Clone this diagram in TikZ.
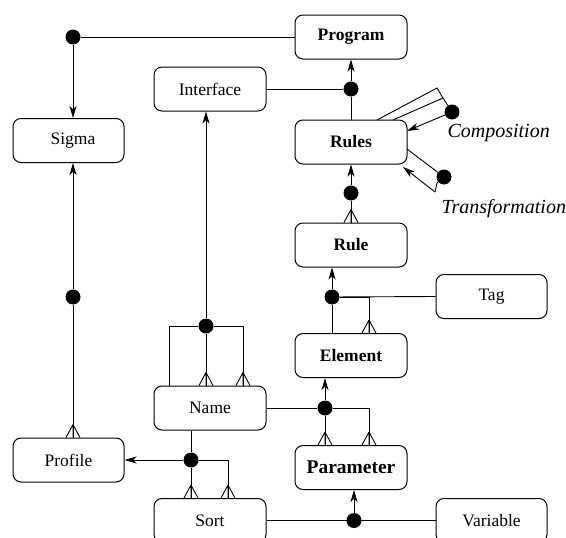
\documentclass[tikz,border=0pt]{standalone}
\usepackage{fontspec}
\setmainfont{Liberation Serif}
\usetikzlibrary{arrows.meta}
\tikzset{
  box/.style={draw, rounded corners=8pt, minimum width=112pt, minimum height=44pt,
    inner sep=0pt, line width=1pt},
  dot/.style={circle, fill=black, minimum size=15pt, inner sep=0pt},
  conn/.style={line width=0.9pt},
  arr/.style={conn, -{Stealth[length=12pt,width=7pt,inset=3.5pt]}},
  rolename/.style={anchor=base west, font=\fontsize{20}{24}\selectfont\itshape},
  crow/.pic={\draw[conn] (0,-13) -- (-7,0) (0,-13) -- (0,0) (0,-13) -- (7,0);}
}
\begin{document}
\begin{tikzpicture}[x=1pt, y=-1pt, font=\fontsize{17.5}{20}\selectfont]
\useasboundingbox (0,0) rectangle (566,538);
\clip (0,0) rectangle (566,538);

% entities
\node[box] (prog)    at (351,37)    {\textbf{Program}};
\node[box] (iface)   at (210,89)    {Interface\hspace{20pt}};
\node[box, minimum width=111pt] (sigma) at (68.5,140.5) {\hspace{9pt}Sigma};
\node[box] (rules)   at (351,142)   {\textbf{Rules}\hspace{10pt}};
\node[box] (rule)    at (351,245)   {\textbf{Rule}};
\node[box, minimum width=111pt] (tag) at (491.5,296.5) {Tag\hspace{9pt}};
\node[box] (element) at (351,355.5) {\textbf{Element}};
\node[box] (name)    at (210,408)   {Name\hspace{10pt}};
\node[box] (param)   at (351,467.5) {\fontsize{19.5}{22}\selectfont\textbf{Parameter}};
\node[box] (sort)    at (210,520.5) {Sort};
\node[box, minimum width=111pt] (var) at (491.5,520.5) {Variable};
\node[box, minimum width=111pt] (profile) at (68.5,460) {Profile};

% relationships
\node[dot] (dProg) at (73,37)   {};
\node[dot] (dIf)   at (351,89)  {};
\node[dot] (dComp) at (452,112) {};
\node[dot] (dTr)   at (444,177) {};
\node[dot] (dRule) at (351,193) {};
\node[dot] (dSig)  at (73,297)  {};
\node[dot] (dEl)   at (332,297) {};
\node[dot] (dName) at (206,326) {};
\node[dot] (dPar)  at (325,408) {};
\node[dot] (dSort) at (191,460) {};
\node[dot] (dVar)  at (354,520.5) {};

% Program -- Sigma
\draw[conn] (dProg) -- (prog.west);
\draw[arr]  (dProg) -- (dProg |- sigma.north);

% Program -- Interface, Rules
\draw[conn] (iface.east) -- (dIf);
\draw[arr]  (dIf) -- (prog.south);
\draw[conn] (dIf) -- (rules.north);

% Composition (Rules with Rules)
\coordinate (c1) at (377,120);
\coordinate (c2) at (393,120);
\coordinate (ck) at (437,88);
\coordinate (cm) at (443,98);
\coordinate (ca) at (407,131);
\draw[conn] (c1) -- (ck) -- (cm) -- (c2);
\draw[conn] (cm) -- (dComp);
\draw[arr]  (dComp) -- (ca);
\node[rolename] (lComp) at (444,137) {Composition};

% Transformation (Rules with Rules)
\coordinate (t1) at (407,149);
\coordinate (tk) at (435,192);
\coordinate (tm) at (437,183);
\coordinate (ta) at (403,167);
\draw[conn] (t1) -- (dTr);
\draw[conn] (dTr) -- (tm) -- (tk);
\draw[arr]  (tk) -- (ta);
\node[rolename] (lTr) at (438,213) {Transformation};

% Rules -- Rule
\draw[arr]  (dRule) -- (rules.south);
\draw[conn] (dRule) -- (rule.north);
\pic at (rule.north) {crow};

% Rule -- Element -- Tag
\coordinate (eb) at ([xshift=18pt]element.north);
\draw[arr]  (dEl) -- (dEl |- rule.south);
\draw[conn] (dEl) -- (dEl |- element.north);
\draw[conn] (dEl) -- (tag.west);
\draw[conn] (dEl) -| (eb);
\pic at (eb) {crow};

% Interface -- Name
\coordinate (n1) at ([xshift=-41pt]name.north);
\coordinate (n2) at (dName |- name.north);
\coordinate (n3) at ([xshift=33pt]name.north);
\draw[arr]  (dName) -- (dName |- iface.south);
\draw[conn] (dName) -| (n1);
\draw[conn] (dName) -- (n2);
\draw[conn] (dName) -| (n3);
\pic at (n2) {crow};
\pic at (n3) {crow};

% Sigma -- Profile
\draw[arr]  (dSig) -- (dSig |- sigma.south);
\draw[conn] (dSig) -- (dSig |- profile.north);
\pic at (dSig |- profile.north) {crow};

% Element -- Name -- Parameter
\coordinate (p1) at (dPar |- param.north);
\coordinate (p2) at ([xshift=18pt]param.north);
\draw[conn] (name.east) -- (dPar);
\draw[arr]  (dPar) -- (dPar |- element.south);
\draw[conn] (dPar) -- (p1);
\draw[conn] (dPar) -| (p2);
\pic at (p1) {crow};
\pic at (p2) {crow};

% Profile -- Name -- Sort
\coordinate (s1) at (dSort |- sort.north);
\coordinate (s2) at ([xshift=18pt]sort.north);
\draw[conn] (dSort) -- (dSort |- name.south);
\draw[arr]  (dSort) -- (profile.east);
\draw[conn] (dSort) -- (s1);
\draw[conn] (dSort) -| (s2);
\pic at (s1) {crow};
\pic at (s2) {crow};

% Parameter -- Sort -- Variable
\draw[conn] (sort.east) -- (var.west);
\draw[arr]  (dVar) -- (dVar |- param.south);
\end{tikzpicture}
\end{document}
